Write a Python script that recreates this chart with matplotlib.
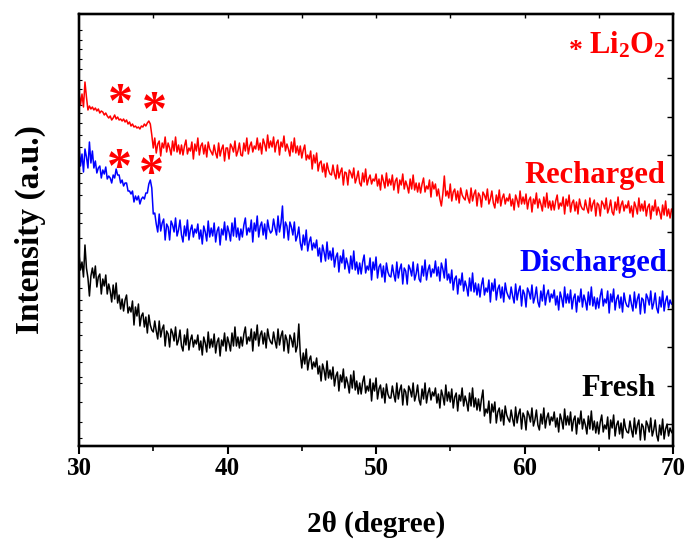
import numpy as np
import matplotlib
matplotlib.use("Agg")
import matplotlib.pyplot as plt

plt.rcParams['font.family'] = ['Liberation Serif', 'DejaVu Serif']
plt.rcParams['font.weight'] = 'bold'
plt.rcParams['mathtext.fontset'] = 'custom'
plt.rcParams['mathtext.rm'] = 'Liberation Serif:bold'
plt.rcParams['mathtext.it'] = 'Liberation Serif:bold'
plt.rcParams['mathtext.bf'] = 'Liberation Serif:bold'

# 2-theta sampling grid (degrees), 0.1 deg step from 30 to 70
two_theta_start = 30.0
two_theta_step = 0.1

# Intensities (a.u.), one row per degree
fresh = [
    192,176,184,169,201,178,168,150,170,178,
    168,180,159,169,172,152,167,160,171,152,
    162,155,144,161,147,163,143,151,137,147,
    135,146,151,133,139,134,145,121,139,130,
    142,120,130,133,119,129,113,131,121,116,
    114,125,115,107,125,109,117,121,100,115,
    112,99,117,113,105,119,101,106,116,100,
    95,111,101,117,96,106,111,99,106,102,
    111,96,105,91,109,103,94,114,98,107,
    99,112,93,104,108,90,106,100,113,95,
    109,103,95,113,100,119,100,109,98,109,
    100,112,119,102,109,105,117,95,114,106,
    121,100,111,115,102,113,98,117,108,104,
    102,114,105,98,117,101,110,115,95,111,
    106,93,111,107,99,113,94,100,122,92,
    78,93,82,97,76,86,90,77,84,79,
    88,72,80,65,82,76,66,85,68,76,
    67,79,60,70,74,55,71,64,77,58,
    69,63,53,71,58,75,56,65,52,63,
    52,64,70,53,60,55,67,45,63,55,
    68,47,57,61,48,58,43,62,52,48,
    48,60,51,44,63,47,56,61,41,57,
    54,41,60,56,49,63,45,51,61,46,
    41,57,47,63,43,53,58,46,54,50,
    58,43,52,38,56,50,41,61,45,54,
    44,57,38,49,53,35,51,45,58,40,
    50,44,35,53,40,58,39,48,36,47,
    35,47,56,30,37,33,45,23,42,34,
    44,23,34,38,25,36,21,40,31,27,
    24,36,27,20,39,23,32,37,17,33,
    29,16,35,31,24,38,20,26,36,21,
    16,32,22,38,18,28,33,21,29,25,
    34,19,28,14,32,26,17,37,21,30,
    21,34,15,26,30,12,28,22,35,17,
    27,21,12,30,17,35,16,25,13,24,
    12,24,31,14,21,17,29,7,26,18,
    31,10,21,25,12,23,8,27,18,14,
    13,25,16,9,28,12,21,26,6,22,
    19,6,25,21,14,28,10,16,26,11,
    5,21,11,27,7,17,22,10,18,14,
    12,
]

discharged = [
    300,280,292,274,297,289,278,304,283,295,
    278,285,273,278,280,268,276,272,279,267,
    270,268,263,271,268,277,271,271,263,266,
    260,263,263,255,255,252,255,244,250,246,
    250,242,247,249,247,253,253,262,266,258,
    232,233,222,214,232,215,223,227,206,222,
    219,206,225,221,214,228,210,216,226,211,
    204,220,210,226,206,216,221,209,217,213,
    222,207,216,202,220,214,205,225,209,218,
    210,223,204,215,219,201,217,211,224,206,
    220,214,205,223,210,228,209,218,206,217,
    209,221,228,211,218,214,226,204,223,215,
    230,209,220,224,211,222,207,226,217,213,
    215,227,218,211,230,214,223,240,208,224,
    220,206,224,219,211,224,205,210,219,203,
    196,211,201,216,195,204,209,196,203,198,
    206,190,198,184,201,194,185,204,187,195,
    186,198,179,189,193,174,190,183,196,177,
    188,182,173,190,177,195,176,184,172,183,
    172,184,191,173,180,176,188,166,184,176,
    189,168,179,182,169,180,164,183,174,170,
    169,181,172,165,184,168,177,182,162,178,
    175,162,181,177,170,184,166,172,182,167,
    164,180,170,186,166,176,181,169,177,173,
    185,170,179,165,183,177,168,187,166,172,
    163,176,156,167,170,152,167,161,173,155,
    165,159,150,168,155,173,154,163,151,162,
    149,161,168,151,158,154,166,144,163,155,
    167,146,157,161,148,159,144,163,154,150,
    147,159,150,143,162,146,155,160,140,156,
    152,139,158,154,147,161,143,149,159,144,
    139,155,145,161,141,151,156,144,152,148,
    156,141,150,136,154,148,139,159,143,152,
    143,156,137,148,152,134,150,144,157,139,
    151,145,136,154,141,159,140,149,137,148,
    138,150,157,140,147,143,155,133,152,144,
    157,136,147,151,138,149,134,153,144,140,
    139,151,142,135,154,138,147,152,132,148,
    146,133,152,148,141,155,137,143,153,138,
    133,149,139,155,135,145,150,138,146,142,
    141,
]

recharged = [
    354,341,352,339,364,349,336,340,337,339,
    336,338,335,337,333,335,334,331,333,330,
    328,330,326,328,331,327,329,326,327,325,
    327,324,326,322,324,320,322,319,320,318,
    319,317,320,319,322,320,323,325,322,311,
    298,308,293,302,305,290,303,298,309,294,
    303,298,291,305,295,309,294,301,292,301,
    291,300,306,292,298,295,304,287,302,295,
    308,291,300,303,292,301,289,304,297,294,
    291,301,293,288,303,290,297,301,285,298,
    298,287,302,299,294,305,290,295,303,291,
    290,303,295,308,292,300,304,294,300,297,
    308,296,303,292,307,302,295,311,298,305,
    299,309,294,303,306,291,304,299,310,295,
    302,297,290,304,294,308,293,300,291,300,
    288,296,301,286,291,287,295,277,291,283,
    293,275,283,285,274,282,269,283,276,272,
    271,281,272,267,281,268,274,278,261,274,
    273,261,276,273,268,278,263,268,275,263,
    260,273,264,277,261,267,271,262,267,265,
    272,260,267,256,271,265,258,273,260,267,
    261,271,256,265,268,253,266,261,272,257,
    265,260,253,267,257,271,256,263,254,263,
    253,262,268,254,260,257,266,249,264,257,
    262,250,257,247,240,252,270,250,255,248,
    262,245,254,257,246,255,243,258,251,248,
    246,256,248,243,258,245,252,256,240,253,
    250,239,254,251,246,257,242,247,255,243,
    238,251,243,256,240,248,252,242,248,245,
    252,240,247,236,251,246,239,255,242,249,
    242,252,237,246,249,234,247,242,253,238,
    247,242,235,249,239,253,238,245,236,245,
    236,245,251,237,243,240,249,232,247,240,
    251,234,243,246,235,244,232,247,240,237,
    236,246,238,233,248,235,242,246,230,243,
    241,230,245,242,237,248,233,238,246,234,
    231,244,236,249,233,241,245,235,241,238,
    245,233,240,229,244,239,232,248,235,242,
    235,245,230,239,242,227,240,235,246,231,
    239,234,227,241,231,245,230,237,228,237,
    233,
]

# Li2O2 peak markers: (2theta, height) for each pattern
li2o2_recharged = [(32.8, 341), (35.1, 333)]
li2o2_discharged = [(32.75, 276), (34.9, 270)]

sample_labels = ["Recharged", "Discharged", "Fresh"]
x_ticks = [30, 40, 50, 60, 70]

fig = plt.figure(figsize=(6.89, 5.41), dpi=100)
ax = fig.add_axes([0.1147, 0.1756, 0.9768 - 0.1147, 0.9741 - 0.1756])

def grid(n):
    return two_theta_start + two_theta_step * np.arange(n)

ax.plot(grid(len(fresh)), fresh, color='black', lw=1.1)
ax.plot(grid(len(discharged)), discharged, color='#0000ff', lw=1.1)
ax.plot(grid(len(recharged)), recharged, color='#ff0000', lw=1.1)

ax.set_xlim(30, 70)
ax.set_ylim(0, 432)

star_kw = dict(color='#ff0000', fontsize=36, fontweight='bold', ha='center', va='center')
for (xx, yy) in li2o2_recharged + li2o2_discharged:
    ax.text(xx, yy, '*', **star_kw)

ax.text(69.45, 271, sample_labels[0], color='#ff0000', fontsize=22, fontweight='bold', ha='right', va='center')
ax.text(69.6, 183, sample_labels[1], color='#0000ff', fontsize=22, fontweight='bold', ha='right', va='center')
ax.text(68.85, 58, sample_labels[2], color='black', fontsize=22, fontweight='bold', ha='right', va='center')

ax.text(63.45, 395, '*', color='#ff0000', fontsize=20, fontweight='bold', ha='center', va='center')
ax.text(64.35, 401, 'Li$_2$O$_2$', color='#ff0000', fontsize=22, fontweight='bold', ha='left', va='center')

ax.set_xticks(x_ticks)
ax.set_xticks([35, 45, 55, 65], minor=True)
ax.set_xticklabels([str(t) for t in x_ticks])
ax.tick_params(axis='x', which='major', direction='out', length=6, width=1.5, labelsize=18, pad=2, top=False)
ax.tick_params(axis='x', which='minor', direction='out', length=3.5, width=1.2, top=False)

# left: tiny irregular ticks, right: evenly spaced inward ticks
left_tick_pix = [30, 40, 49, 59, 69, 80, 89, 105, 113, 123, 135, 147, 173, 183, 195, 213, 223,
                 238, 288, 300, 310, 322, 335, 350, 362, 377, 383, 402, 422, 438]
ax.set_yticks([446 - p for p in left_tick_pix])
ax.tick_params(axis='y', which='major', direction='in', length=2.5, width=0.8, labelleft=False)

axr = ax.twinx()
axr.set_ylim(0, 432)
axr.set_yticks([22 + 38.4 * i for i in range(11)])
axr.tick_params(axis='y', direction='in', length=4, width=1.0, labelright=False)

axt = ax.twiny()
axt.set_xlim(30, 70)
axt.set_xticks([35, 40, 45, 50, 55, 60, 65])
axt.tick_params(axis='x', direction='in', length=3, width=1.0, labeltop=False)

for a in (ax, axr, axt):
    for s in a.spines.values():
        s.set_linewidth(1.6)

for lab in ax.get_xticklabels():
    lab.set_fontweight('bold')

ax.set_xlabel('2θ (degree)', fontsize=21, fontweight='bold', labelpad=22)
ax.set_ylabel('Intensity (a.u.)', fontsize=24, fontweight='bold', labelpad=24)

fig.savefig('out.png', dpi=100)
